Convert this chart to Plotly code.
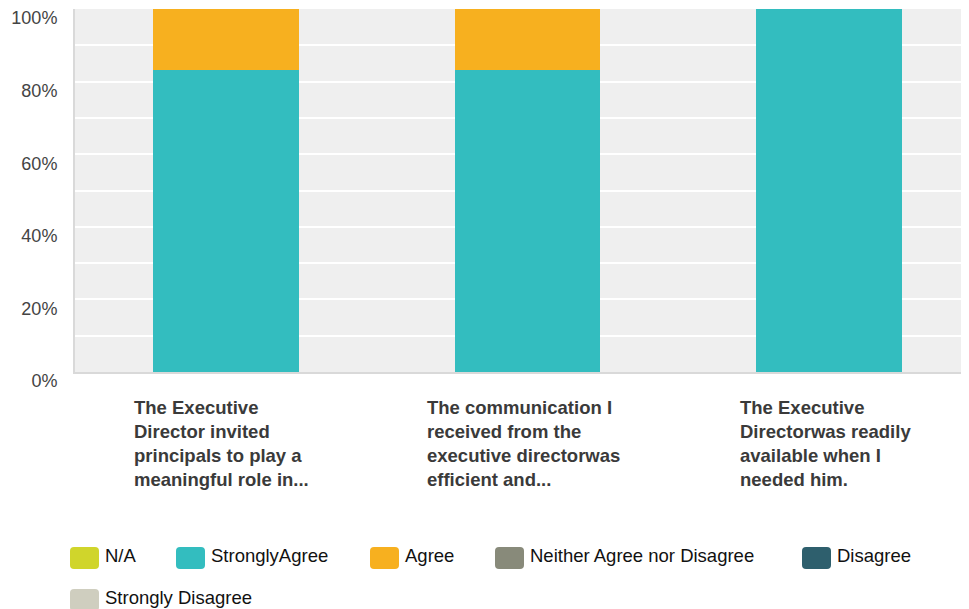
import plotly.graph_objects as go

# ---------------- data ----------------
categories = [
    "The Executive<br>Director invited<br>principals to play a<br>meaningful role in...",
    "The communication I<br>received from the<br>executive directorwas<br>efficient and...",
    "The Executive<br>Directorwas readily<br>available when I<br>needed him.",
]
series_names = ["N/A", "StronglyAgree", "Agree", "Neither Agree nor Disagree",
                "Disagree", "Strongly Disagree"]
na_vals = [0, 0, 0]
strongly_agree_vals = [83.33, 83.33, 100]
agree_vals = [16.67, 16.67, 0]
neither_vals = [0, 0, 0]
disagree_vals = [0, 0, 0]
strongly_disagree_vals = [0, 0, 0]
y_tick_vals = [0, 20, 40, 60, 80, 100]
y_tick_text = ["0%", "20%", "40%", "60%", "80%", "100%"]

colors = ["#d0d52b", "#33bdbf", "#f7b01f", "#888a7a", "#2e5f6d", "#cfcebf"]
series_vals = [na_vals, strongly_agree_vals, agree_vals, neither_vals,
               disagree_vals, strongly_disagree_vals]

FONT = "Arial, Liberation Sans, Helvetica, sans-serif"
OFF = 8  # page body margin
W, H = 969 - OFF, 609 - OFF
ML, MT, MR, MB = 75 - OFF, 9 - OFF, 0, 237
PW, PH = W - ML - MR, H - MT - MB

fig = go.Figure()
xs = list(range(len(categories)))
for name, vals, col in zip(series_names, series_vals, colors):
    fig.add_trace(go.Bar(
        x=xs, y=vals, name=name, marker=dict(color=col, line=dict(width=0)),
        width=0.483, showlegend=False, hoverinfo="name+y",
    ))

# category labels (left-aligned block centred under the bar)
label_xshift = [-4, -4, -4]
annotations = []
for i, lab in enumerate(categories):
    annotations.append(dict(
        x=i, xref="x", y=0, yref="paper", yanchor="top", xanchor="center",
        yshift=-23, xshift=label_xshift[i], text="<b>" + lab + "</b>", align="left",
        showarrow=False, font=dict(family=FONT, size=18.5, color="#3a3a3a"),
    ))

# manual legend (page pixel layout -> paper coords)
legend_px = [(70, 558), (176, 558), (370, 558), (495, 558), (802, 558), (70, 600)]
SW, SH, R = 29, 22, 4
shapes = []


def px2paper(px, py):
    fx, fy = px - OFF, py - OFF
    return (fx - ML) / PW, (MT + PH - fy) / PH


def rounded_path(x0, y0, x1, y1, r):
    def P(x, y):
        a, b = px2paper(x, y)
        return f"{a:.5f},{b:.5f}"
    return (f"M{P(x0 + r, y0)} L{P(x1 - r, y0)} Q{P(x1, y0)} {P(x1, y0 + r)} "
            f"L{P(x1, y1 - r)} Q{P(x1, y1)} {P(x1 - r, y1)} "
            f"L{P(x0 + r, y1)} Q{P(x0, y1)} {P(x0, y1 - r)} "
            f"L{P(x0, y0 + r)} Q{P(x0, y0)} {P(x0 + r, y0)} Z")


for (lx, ly), name, col in zip(legend_px, series_names, colors):
    shapes.append(dict(type="path", xref="paper", yref="paper",
                       path=rounded_path(lx, ly - SH / 2, lx + SW, ly + SH / 2, R),
                       fillcolor=col, line=dict(width=0), layer="above"))
    tx, ty = px2paper(lx + SW + 4, ly - 3)
    annotations.append(dict(
        x=tx, y=ty, xref="paper", yref="paper", xanchor="left", yanchor="middle",
        text=name, showarrow=False, font=dict(family=FONT, size=18.5, color="#111111"),
    ))

fig.update_layout(
    width=W, height=H, barmode="stack",
    margin=dict(l=ML, r=MR, t=MT, b=MB, pad=0),
    paper_bgcolor="white", plot_bgcolor="#efefef",
    showlegend=False,
    annotations=annotations, shapes=shapes,
    font=dict(family=FONT),
)
fig.update_xaxes(
    range=[-0.5, 2.463], showticklabels=False, showgrid=False, zeroline=False,
    showline=True, linecolor="#d9d9d9", linewidth=2, ticks="",
)
fig.update_yaxes(
    range=[0, 100], tickvals=y_tick_vals, ticktext=y_tick_text,
    showgrid=True, gridcolor="white", gridwidth=2, zeroline=False,
    minor=dict(dtick=10, showgrid=True, gridcolor="white", gridwidth=2),
    showline=True, linecolor="#d9d9d9", linewidth=2, ticks="",
    ticklabelstandoff=12, ticklabelshift=9,
    tickfont=dict(family=FONT, size=18, color="#444444"),
)

fig.write_html("out.html")
